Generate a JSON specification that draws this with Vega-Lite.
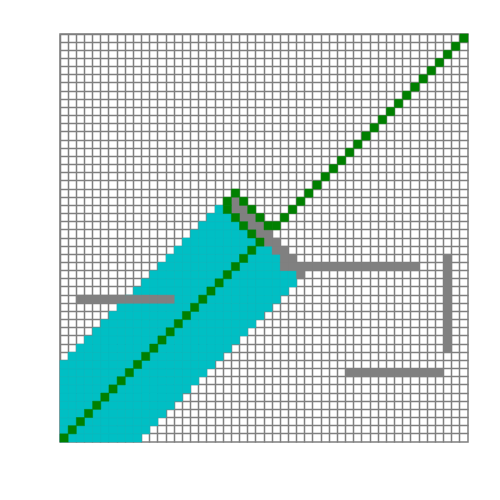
{
  "$schema": "https://vega.github.io/schema/vega-lite/v6.json",
  "width": 408,
  "height": 408,
  "autosize": {"type": "none"},
  "padding": {"left": 60, "top": 34, "right": 32, "bottom": 58},
  "background": "white",
  "config": {"view": {"stroke": "#7f7f7f", "strokeWidth": 1.5}},
  "datasets": {
    "cyan": [
      {"r": 0, "c": [0,1,2,3,4,5,6,7,8,9]},
      {"r": 1, "c": [0,1,2,3,4,5,6,7,8,9,10]},
      {"r": 2, "c": [0,1,2,3,4,5,6,7,8,9,10,11]},
      {"r": 3, "c": [0,1,2,3,4,5,6,7,8,9,10,11,12]},
      {"r": 4, "c": [0,1,2,3,4,5,6,7,8,9,10,11,12,13]},
      {"r": 5, "c": [0,1,2,3,4,5,6,7,8,9,10,11,12,13,14]},
      {"r": 6, "c": [0,1,2,3,4,5,6,7,8,9,10,11,12,13,14,15]},
      {"r": 7, "c": [0,1,2,3,4,5,6,7,8,9,10,11,12,13,14,15,16]},
      {"r": 8, "c": [0,1,2,3,4,5,6,7,8,9,10,11,12,13,14,15,16,17]},
      {"r": 9, "c": [0,1,2,3,4,5,6,7,8,9,10,11,12,13,14,15,16,17,18]},
      {"r": 10, "c": [1,2,3,4,5,6,7,8,9,10,11,12,13,14,15,16,17,18,19]},
      {"r": 11, "c": [2,3,4,5,6,7,8,9,10,11,12,13,14,15,16,17,18,19,20]},
      {"r": 12, "c": [3,4,5,6,7,8,9,10,11,12,13,14,15,16,17,18,19,20,21]},
      {"r": 13, "c": [4,5,6,7,8,9,10,11,12,13,14,15,16,17,18,19,20,21,22]},
      {"r": 14, "c": [5,6,7,8,9,10,11,12,13,14,15,16,17,18,19,20,21,22,23]},
      {"r": 15, "c": [6,7,8,9,10,11,12,13,14,15,16,17,18,19,20,21,22,23,24]},
      {"r": 16, "c": [7,8,9,10,11,12,13,14,15,16,17,18,19,20,21,22,23,24,25]},
      {"r": 17, "c": [8,9,10,11,12,13,14,15,16,17,18,19,20,21,22,23,24,25,26]},
      {"r": 18, "c": [9,10,11,12,13,14,15,16,17,18,19,20,21,22,23,24,25,26,27]},
      {"r": 19, "c": [10,11,12,13,14,15,16,17,18,19,20,21,22,23,24,25,26,27,28]},
      {"r": 20, "c": [11,12,13,14,15,16,17,18,19,20,21,22,23,24,25,26,27,28]},
      {"r": 21, "c": [12,13,14,15,16,17,18,19,20,21,22,23,24,25,26]},
      {"r": 22, "c": [13,14,15,16,17,18,19,20,21,22,23,24,25,26]},
      {"r": 23, "c": [14,15,16,17,18,19,20,21,22,23,24,25]},
      {"r": 24, "c": [15,16,17,18,19,20,21,22,23,24]},
      {"r": 25, "c": [16,17,18,19,20,21,22,23]},
      {"r": 26, "c": [17,18,19,20,21,22]},
      {"r": 27, "c": [18,19,20,21]},
      {"r": 28, "c": [19,20]}
    ],
    "greyRows": [
      {"r": 29, "c": [21]},
      {"r": 28, "c": [21,22]},
      {"r": 27, "c": [22,23]},
      {"r": 26, "c": [23,24]},
      {"r": 25, "c": [24,25]},
      {"r": 24, "c": [25,26]},
      {"r": 23, "c": [26,27]},
      {"r": 22, "c": [27,28]},
      {"r": 21, "c": [27,28,29,30,31,32,33,34,35,36,37,38,39,40,41,42,43]},
      {"r": 20, "c": [29]},
      {"r": 17, "c": [2,3,4,5,6,7,8,9,10,11,12,13]},
      {"r": 8, "c": [35,36,37,38,39,40,41,42,43,44,45,46]}
    ],
    "greyCols": [
      {"c": 47, "r": [11,12,13,14,15,16,17,18,19,20,21,22]}
    ],
    "green": [
      {"c": 0, "r": 0}, {"c": 1, "r": 1}, {"c": 2, "r": 2}, {"c": 3, "r": 3}, {"c": 4, "r": 4},
      {"c": 5, "r": 5}, {"c": 6, "r": 6}, {"c": 7, "r": 7}, {"c": 8, "r": 8}, {"c": 9, "r": 9},
      {"c": 10, "r": 10}, {"c": 11, "r": 11}, {"c": 12, "r": 12}, {"c": 13, "r": 13}, {"c": 14, "r": 14},
      {"c": 15, "r": 15}, {"c": 16, "r": 16}, {"c": 17, "r": 17}, {"c": 18, "r": 18}, {"c": 19, "r": 19},
      {"c": 20, "r": 20}, {"c": 21, "r": 21}, {"c": 22, "r": 22}, {"c": 23, "r": 23}, {"c": 24, "r": 24},
      {"c": 23, "r": 25}, {"c": 22, "r": 26}, {"c": 21, "r": 27}, {"c": 20, "r": 28}, {"c": 20, "r": 29},
      {"c": 21, "r": 30}, {"c": 22, "r": 29}, {"c": 23, "r": 28}, {"c": 24, "r": 27}, {"c": 25, "r": 26},
      {"c": 26, "r": 26}, {"c": 27, "r": 27}, {"c": 28, "r": 28}, {"c": 29, "r": 29}, {"c": 30, "r": 30},
      {"c": 31, "r": 31}, {"c": 32, "r": 32}, {"c": 33, "r": 33}, {"c": 34, "r": 34}, {"c": 35, "r": 35},
      {"c": 36, "r": 36}, {"c": 37, "r": 37}, {"c": 38, "r": 38}, {"c": 39, "r": 39}, {"c": 40, "r": 40},
      {"c": 41, "r": 41}, {"c": 42, "r": 42}, {"c": 43, "r": 43}, {"c": 44, "r": 44}, {"c": 45, "r": 45},
      {"c": 46, "r": 46}, {"c": 47, "r": 47}, {"c": 48, "r": 48}, {"c": 49, "r": 49}
    ]
  },
  "encoding": {
    "x": {
      "field": "c", "type": "ordinal",
      "scale": {"domain": [0,1,2,3,4,5,6,7,8,9,10,11,12,13,14,15,16,17,18,19,20,21,22,23,24,25,26,27,28,29,30,31,32,33,34,35,36,37,38,39,40,41,42,43,44,45,46,47,48,49], "paddingInner": 0, "paddingOuter": 0},
      "axis": {"grid": true, "zindex": 0, "bandPosition": 0, "gridColor": "#7f7f7f", "gridWidth": 1.5, "labels": false, "ticks": false, "domain": false, "title": null}
    },
    "y": {
      "field": "r", "type": "ordinal",
      "scale": {"domain": [0,1,2,3,4,5,6,7,8,9,10,11,12,13,14,15,16,17,18,19,20,21,22,23,24,25,26,27,28,29,30,31,32,33,34,35,36,37,38,39,40,41,42,43,44,45,46,47,48,49], "reverse": true, "paddingInner": 0, "paddingOuter": 0},
      "axis": {"grid": true, "zindex": 0, "bandPosition": 0, "gridColor": "#7f7f7f", "gridWidth": 1.5, "labels": false, "ticks": false, "domain": false, "title": null}
    }
  },
  "layer": [
    {"data": {"name": "cyan"}, "transform": [{"flatten": ["c"]}], "mark": {"type": "rect", "color": "#00BFC4", "opacity": 1, "stroke": "#00BFC4", "strokeWidth": 0.5}},
    {"data": {"name": "greyRows"}, "transform": [{"flatten": ["c"]}], "mark": {"type": "rect", "color": "#808080", "opacity": 1, "stroke": "#808080", "strokeWidth": 0.5}},
    {"data": {"name": "greyCols"}, "transform": [{"flatten": ["r"]}], "mark": {"type": "rect", "color": "#808080", "opacity": 1, "stroke": "#808080", "strokeWidth": 0.5}},
    {"data": {"name": "green"}, "mark": {"type": "rect", "color": "#008000", "opacity": 1, "stroke": "#008000", "strokeWidth": 0.5}}
  ]
}
